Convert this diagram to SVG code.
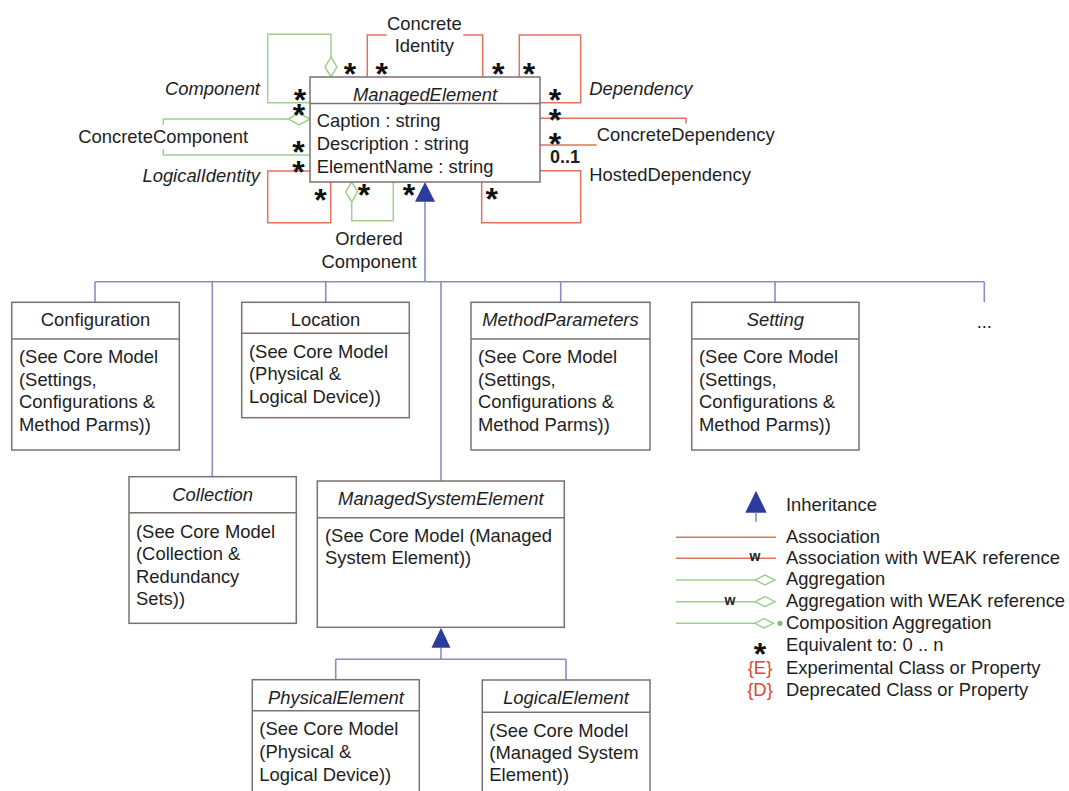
<svg xmlns="http://www.w3.org/2000/svg" width="1069" height="791" viewBox="0 0 1069 791">
  <style>
    text { font-family: "Liberation Sans", Arial, sans-serif; font-size: 18.4px; fill: #1e1e1e; }
    .it { font-style: italic; }
    .mid { text-anchor: middle; }
    .end { text-anchor: end; }
    .star { font-size: 32px; font-weight: bold; text-anchor: middle; fill: #111; }
    .bold { font-weight: bold; }
    .red { fill: #e0452e; }
    .box { fill: #ffffff; stroke: #7c7070; stroke-width: 1.5; }
    .sep { stroke: #7c7070; stroke-width: 1.5; }
    .inh { fill: none; stroke: #8a8cc8; stroke-width: 1.6; }
    .tri { fill: #2c3c9c; stroke: none; }
    .assoc { fill: none; stroke: #e2735f; stroke-width: 1.5; }
    .aggr { fill: none; stroke: #9fd08e; stroke-width: 1.5; }
    .dia { fill: #ffffff; stroke: #9fd08e; stroke-width: 1.5; }
  </style>
  <rect width="1069" height="791" fill="#ffffff"/>

  <!-- connectors: self associations / aggregations and inheritance tree -->
  <g id="connectors">
    <!-- Component -->
    <path class="aggr" d="M331 57 V34.3 H267.7 V102.7 H310"/>
    <path class="dia" d="M331 57 L337 67 L331 77 L325 67 Z"/>
    <!-- ConcreteComponent -->
    <path class="aggr" d="M288.3 119 H163.3 V125 M163.3 149 V155 H310"/>
    <path class="dia" d="M288.3 119 L299 113 L310 119 L299 125 Z"/>
    <!-- LogicalIdentity -->
    <path class="assoc" d="M310 171 H267.7 V222.7 H330.7 V182"/>
    <!-- OrderedComponent -->
    <path class="aggr" d="M351.7 201.7 V220.7 H393.3 V182"/>
    <path class="dia" d="M351.7 182 L357.7 191.8 L351.7 201.7 L345.7 191.8 Z"/>
    <!-- ConcreteIdentity -->
    <path class="assoc" d="M367.3 77 V35 H386.7 M463.3 35 H482.7 V77"/>
    <!-- Dependency -->
    <path class="assoc" d="M519.3 77 V35 H580.7 V102.7 H540"/>
    <!-- ConcreteDependency -->
    <path class="assoc" d="M540 118.3 H686 V123.5 M596.7 145 H540"/>
    <!-- HostedDependency -->
    <path class="assoc" d="M540 170.7 H580.7 V222.7 H481.7 V182"/>

    <!-- inheritance from ManagedElement -->
    <path class="inh" d="M425 201.7 V281.7 M95 281.7 H984.3 M95 281.7 V302.3 M212.3 281.7 V476.7 M325.7 281.7 V302.3 M441 281.7 V481 M560.7 281.7 V302.3 M775 281.7 V302.3 M984.3 281.7 V302.3"/>
    <polygon class="tri" points="425,182 435,201.7 415,201.7"/>
    <!-- inheritance from ManagedSystemElement -->
    <path class="inh" d="M441 647.7 V659.3 M335.7 659.3 H566 M335.7 659.3 V679.7 M566 659.3 V680"/>
    <polygon class="tri" points="441,627.8 450.5,647.7 431.5,647.7"/>

    <!-- multiplicities -->
    <text class="star" x="350" y="84.5">*</text>
    <text class="star" x="300" y="111">*</text>
    <text class="star" x="299" y="125.5">*</text>
    <text class="star" x="298.5" y="163">*</text>
    <text class="star" x="298.5" y="183">*</text>
    <text class="star" x="320.5" y="210.5">*</text>
    <text class="star" x="364" y="205.5">*</text>
    <text class="star" x="409" y="206">*</text>
    <text class="star" x="381.7" y="84.5">*</text>
    <text class="star" x="498.3" y="84.5">*</text>
    <text class="star" x="529" y="84.5">*</text>
    <text class="star" x="555" y="110.5">*</text>
    <text class="star" x="555" y="131">*</text>
    <text class="star" x="555" y="154.5">*</text>
    <text class="star" x="491.7" y="209.5">*</text>
    <text class="bold" x="550" y="163" style="font-size:18px">0..1</text>

    <!-- association names -->
    <text class="it end" x="260" y="95">Component</text>
    <text x="78.3" y="142.7">ConcreteComponent</text>
    <text class="it end" x="260" y="181.7">LogicalIdentity</text>
    <text class="mid" x="369" y="245.3">Ordered</text>
    <text class="mid" x="369" y="267.7">Component</text>
    <text class="mid" x="424.3" y="29.5">Concrete</text>
    <text class="mid" x="424.3" y="51.5">Identity</text>
    <text class="it" x="589.3" y="95.3">Dependency</text>
    <text x="596.7" y="141">ConcreteDependency</text>
    <text x="589.3" y="181">HostedDependency</text>
  </g>

  <!-- ManagedElement -->
  <g id="managed-element">
    <rect class="box" x="310" y="77" width="230" height="105"/>
    <line class="sep" x1="310" y1="103.5" x2="540" y2="103.5"/>
    <text class="it mid" x="425" y="100.7">ManagedElement</text>
    <text x="316.7" y="127">Caption : string</text>
    <text x="316.7" y="150">Description : string</text>
    <text x="316.7" y="173">ElementName : string</text>
  </g>

  <!-- Configuration -->
  <g id="configuration">
    <rect class="box" x="11.7" y="302.3" width="167.6" height="147.7"/>
    <line class="sep" x1="11.7" y1="339" x2="179.3" y2="339"/>
    <text class="mid" x="95.5" y="326">Configuration</text>
    <text x="19" y="363">(See Core Model</text>
    <text x="19" y="385.5">(Settings,</text>
    <text x="19" y="408">Configurations &amp;</text>
    <text x="19" y="430.5">Method Parms))</text>
  </g>

  <!-- Location -->
  <g id="location">
    <rect class="box" x="241.7" y="302.3" width="167.6" height="115.4"/>
    <line class="sep" x1="241.7" y1="333.3" x2="409.3" y2="333.3"/>
    <text class="mid" x="325.5" y="326">Location</text>
    <text x="249" y="357.5">(See Core Model</text>
    <text x="249" y="380">(Physical &amp;</text>
    <text x="249" y="402.5">Logical Device))</text>
  </g>

  <!-- MethodParameters -->
  <g id="method-parameters">
    <rect class="box" x="471" y="302.3" width="179" height="147.7"/>
    <line class="sep" x1="471" y1="339" x2="650" y2="339"/>
    <text class="it mid" x="560.5" y="326">MethodParameters</text>
    <text x="478" y="363">(See Core Model</text>
    <text x="478" y="385.5">(Settings,</text>
    <text x="478" y="408">Configurations &amp;</text>
    <text x="478" y="430.5">Method Parms))</text>
  </g>

  <!-- Setting -->
  <g id="setting">
    <rect class="box" x="691.7" y="302.3" width="167.3" height="147.7"/>
    <line class="sep" x1="691.7" y1="339" x2="859" y2="339"/>
    <text class="it mid" x="775.3" y="326">Setting</text>
    <text x="699" y="363">(See Core Model</text>
    <text x="699" y="385.5">(Settings,</text>
    <text x="699" y="408">Configurations &amp;</text>
    <text x="699" y="430.5">Method Parms))</text>
  </g>

  <!-- further subclasses -->
  <g id="more">
    <text class="mid" x="984.3" y="328">...</text>
  </g>

  <!-- Collection -->
  <g id="collection">
    <rect class="box" x="129" y="476.7" width="167.3" height="146.6"/>
    <line class="sep" x1="129" y1="512.7" x2="296.3" y2="512.7"/>
    <text class="it mid" x="212.7" y="500.5">Collection</text>
    <text x="136" y="537.5">(See Core Model</text>
    <text x="136" y="560">(Collection &amp;</text>
    <text x="136" y="582.5">Redundancy</text>
    <text x="136" y="605">Sets))</text>
  </g>

  <!-- ManagedSystemElement -->
  <g id="managed-system-element">
    <rect class="box" x="317.3" y="481" width="247" height="146.3"/>
    <line class="sep" x1="317.3" y1="517.7" x2="564.3" y2="517.7"/>
    <text class="it mid" x="440.8" y="504.8">ManagedSystemElement</text>
    <text x="325" y="541.5">(See Core Model (Managed</text>
    <text x="325" y="564">System Element))</text>
  </g>

  <!-- PhysicalElement -->
  <g id="physical-element">
    <rect class="box" x="252.3" y="679.7" width="167" height="120"/>
    <line class="sep" x1="252.3" y1="710.7" x2="419.3" y2="710.7"/>
    <text class="it mid" x="336" y="703.8">PhysicalElement</text>
    <text x="259.3" y="735.2">(See Core Model</text>
    <text x="259.3" y="758">(Physical &amp;</text>
    <text x="259.3" y="780.8">Logical Device))</text>
  </g>

  <!-- LogicalElement -->
  <g id="logical-element">
    <rect class="box" x="482.3" y="680" width="167.7" height="120"/>
    <line class="sep" x1="482.3" y1="712.3" x2="650" y2="712.3"/>
    <text class="it mid" x="566" y="703.8">LogicalElement</text>
    <text x="489.3" y="736.5">(See Core Model</text>
    <text x="489.3" y="758.5">(Managed System</text>
    <text x="489.3" y="780.5">Element))</text>
  </g>

  <!-- legend -->
  <g id="legend">
    <polygon class="tri" points="756,490.7 766.7,512.7 745.3,512.7"/>
    <line class="inh" x1="756" y1="512.7" x2="756" y2="521.7"/>
    <text x="786" y="511">Inheritance</text>

    <line class="assoc" x1="676" y1="537.3" x2="776" y2="537.3"/>
    <text x="786" y="543.3">Association</text>

    <line class="assoc" x1="676" y1="558.3" x2="776" y2="558.3"/>
    <text class="bold mid" x="755" y="561" style="font-size:14px">w</text>
    <text x="786" y="564">Association with WEAK reference</text>

    <line class="aggr" x1="676" y1="580" x2="755" y2="580"/>
    <path class="dia" d="M755 580 L765 575 L775 580 L765 585 Z"/>
    <text x="786" y="585">Aggregation</text>

    <line class="aggr" x1="676" y1="601.7" x2="755" y2="601.7"/>
    <path class="dia" d="M755 601.7 L765 596.7 L775 601.7 L765 606.7 Z"/>
    <text class="bold mid" x="730" y="604.5" style="font-size:14px">w</text>
    <text x="786" y="606.7">Aggregation with WEAK reference</text>

    <line class="aggr" x1="676" y1="623.3" x2="755" y2="623.3"/>
    <path class="dia" d="M755 623.3 L764 618.5 L773.3 623.3 L764 628.1 Z"/>
    <circle cx="780" cy="623.3" r="2.6" fill="#7cc06a"/>
    <text x="786" y="629">Composition Aggregation</text>

    <text class="star" x="760" y="665">*</text>
    <text x="786" y="651">Equivalent to:  0 .. n</text>

    <text class="red mid" x="760" y="674.3">{E}</text>
    <text x="786" y="674.3">Experimental Class or Property</text>
    <text class="red mid" x="760" y="696">{D}</text>
    <text x="786" y="696">Deprecated Class or Property</text>
  </g>
</svg>
